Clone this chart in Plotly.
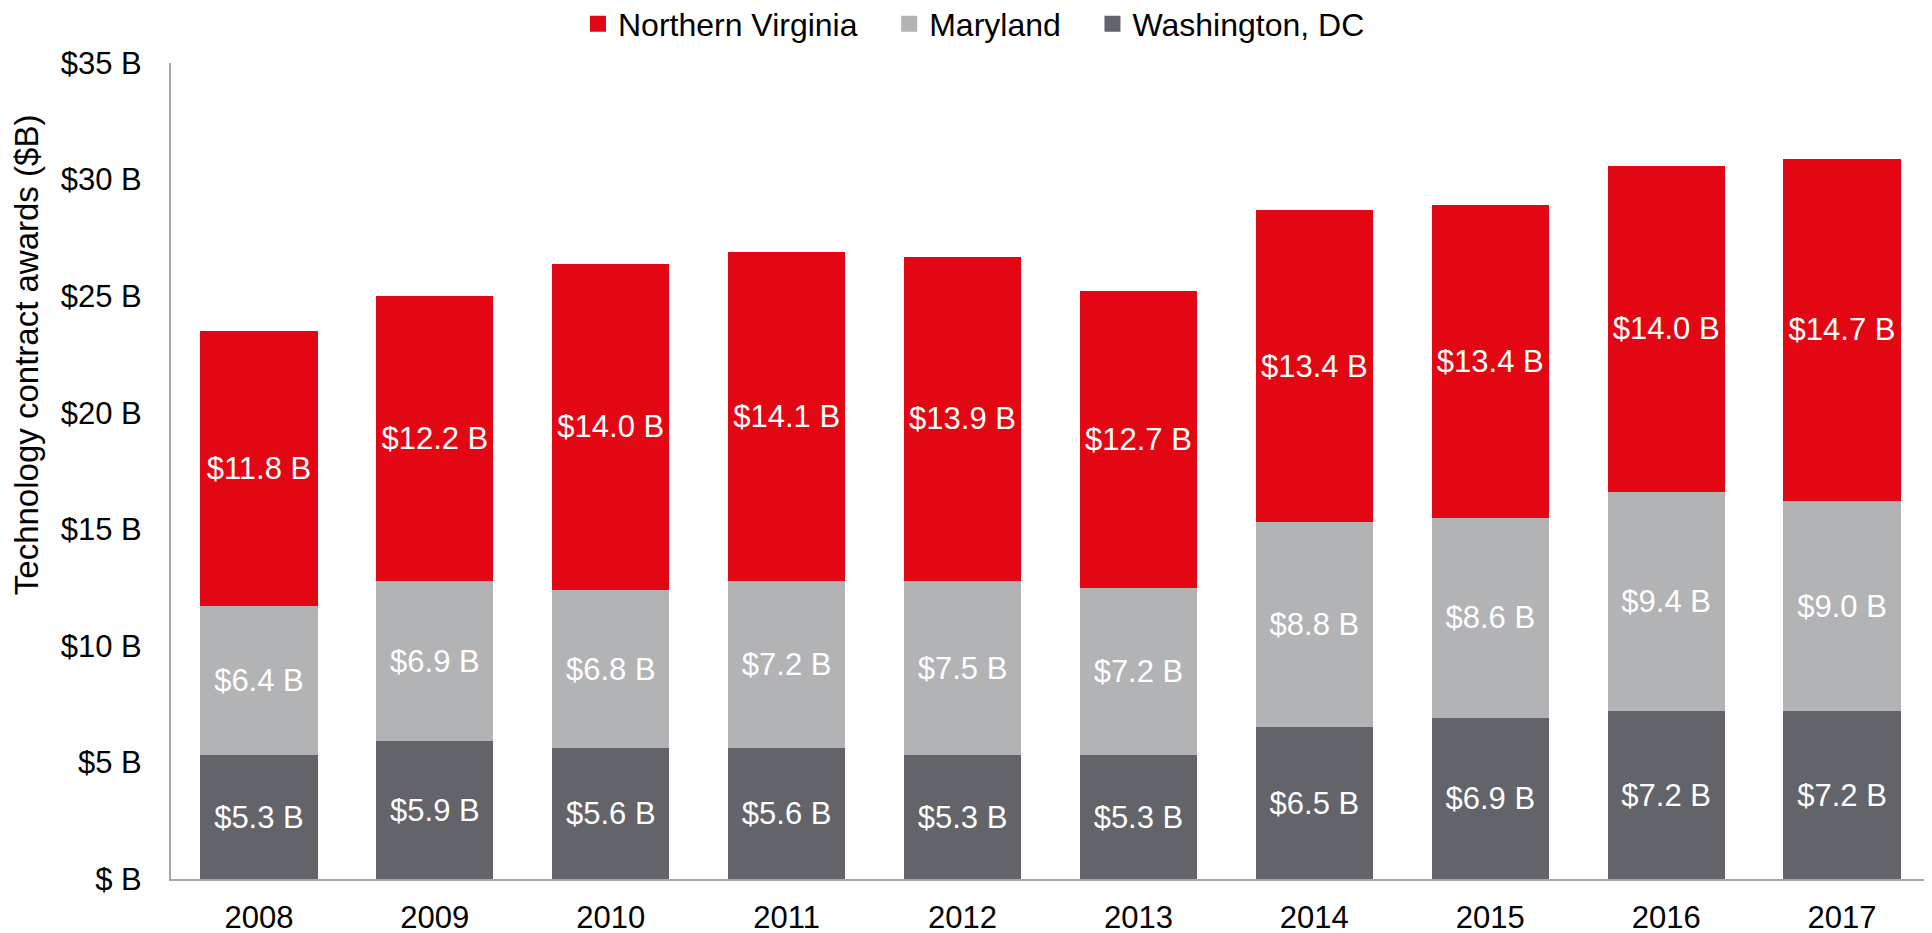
import plotly.graph_objects as go

years = ["2008", "2009", "2010", "2011", "2012", "2013", "2014", "2015", "2016", "2017"]
dc = [5.3, 5.9, 5.6, 5.6, 5.3, 5.3, 6.5, 6.9, 7.2, 7.2]
maryland = [6.4, 6.9, 6.8, 7.2, 7.5, 7.2, 8.8, 8.6, 9.4, 9.0]
nova = [11.8, 12.2, 14.0, 14.1, 13.9, 12.7, 13.4, 13.4, 14.0, 14.7]
ytick_vals = [0, 5, 10, 15, 20, 25, 30, 35]
ytick_text = ["$ B", "$5 B", "$10 B", "$15 B", "$20 B", "$25 B", "$30 B", "$35 B"]

FONT = "Liberation Sans, Arial, sans-serif"
FS = 31

def lab(vals):
    return [f"${v:.1f} B" for v in vals]

fig = go.Figure()
series = [
    ("Northern Virginia", nova, "#E30613"),
    ("Maryland", maryland, "#B2B3B5"),
    ("Washington, DC", dc, "#626469"),
]
# bars, stacked bottom -> top: DC, Maryland, NoVa
for name, vals, col in reversed(series):
    fig.add_trace(go.Bar(
        x=years, y=vals, name=name, showlegend=False,
        marker=dict(color=col, line=dict(width=0)),
        text=lab(vals), textposition="inside", insidetextanchor="middle",
        textfont=dict(color="white", size=FS, family=FONT),
    ))
# legend entries with square swatches
pad = "\u00a0" * 3
for i, (name, vals, col) in enumerate(series):
    fig.add_trace(go.Scatter(
        x=[None], y=[None], mode="markers", name=name + (pad if i < len(series) - 1 else ""),
        marker=dict(symbol="square", size=16, color=col, line=dict(width=0)),
        showlegend=True, hoverinfo="skip",
    ))

fig.update_layout(
    barmode="stack",
    bargap=0.334,
    width=1932, height=933,
    margin=dict(l=163, r=10, t=55, b=62, autoexpand=False),
    plot_bgcolor="white", paper_bgcolor="white",
    font=dict(family=FONT, size=FS, color="black"),
    showlegend=True,
    legend=dict(orientation="h", x=0.4565, xanchor="center", y=1.0478, yanchor="middle",
                font=dict(size=32), traceorder="normal", itemclick=False, itemsizing="trace",
                bgcolor="rgba(0,0,0,0)"),
    xaxis=dict(type="category", range=[-0.5, 9.5], showline=True, linecolor="#A6A6A6", linewidth=2,
               showgrid=False, ticks="", ticklabelstandoff=10, tickfont=dict(size=FS), automargin=False),
    yaxis=dict(range=[0, 35], tickvals=ytick_vals, ticktext=ytick_text, showline=True,
               linecolor="#A6A6A6", linewidth=2, showgrid=False, zeroline=False, ticks="",
               ticklabelstandoff=21, tickfont=dict(size=FS), automargin=False),
    annotations=[dict(text="Technology contract awards ($B)", textangle=-90, xref="paper", yref="paper",
                      x=-0.0824, y=0.642, xanchor="center", yanchor="middle", showarrow=False,
                      font=dict(size=33, family=FONT, color="black"))],
)

fig.write_html("out.html")
